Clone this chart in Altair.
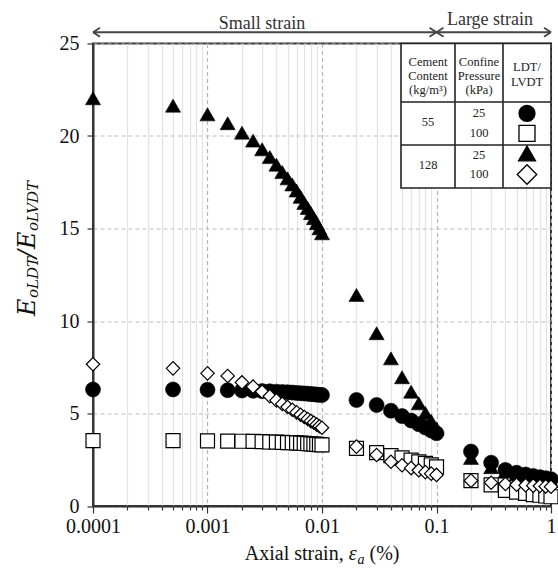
import altair as alt
import pandas as pd

# ---------------- data ----------------
strain = [
    0.0001, 0.0005, 0.001, 0.0015, 0.002, 0.0025, 0.003, 0.0035, 0.004, 0.0045,
    0.005, 0.0055, 0.006, 0.0065, 0.007, 0.0075, 0.008, 0.0085, 0.009, 0.0095, 0.01,
    0.02, 0.03, 0.04, 0.05, 0.06, 0.07, 0.08, 0.09, 0.1,
    0.2, 0.3, 0.4, 0.5, 0.6, 0.7, 0.8, 0.9, 1.0,
]
circle_55_25 = [6.30, 6.30, 6.28, 6.26, 6.24, 6.23, 6.21, 6.20, 6.18, 6.16, 6.15, 6.13, 6.11, 6.10,
                6.08, 6.07, 6.05, 6.04, 6.02, 6.01, 6.00,
                5.73, 5.46, 5.15, 4.86, 4.62, 4.42, 4.24, 4.08, 3.93,
                2.94, 2.34, 1.95, 1.80, 1.70, 1.62, 1.56, 1.50, 1.45]
square_55_100 = [3.53, 3.53, 3.52, 3.51, 3.50, 3.49, 3.48, 3.46, 3.45, 3.44, 3.43, 3.42, 3.41, 3.40,
                 3.38, 3.37, 3.36, 3.35, 3.33, 3.32, 3.30,
                 3.12, 2.88, 2.72, 2.60, 2.48, 2.38, 2.30, 2.22, 2.12,
                 1.37, 1.14, 0.85, 0.75, 0.68, 0.62, 0.58, 0.54, 0.50]
triangle_128_25 = [22.04, 21.64, 21.17, 20.69, 20.18, 19.75, 19.28, 18.86, 18.45, 18.05, 17.71,
                   17.38, 17.05, 16.71, 16.38, 16.11, 15.83, 15.56, 15.29, 15.01, 14.74,
                   11.41, 9.34, 7.98, 6.96, 6.18, 5.55, 5.03, 4.60, 4.20,
                   2.60, 2.10, 1.85, 1.70, 1.60, 1.52, 1.45, 1.40, 1.35]
diamond_128_100 = [7.66, 7.44, 7.17, 7.03, 6.68, 6.45, 6.18, 5.93, 5.71, 5.52, 5.35, 5.20, 5.06,
                   4.93, 4.81, 4.70, 4.59, 4.50, 4.40, 4.31, 4.23,
                   3.21, 2.76, 2.39, 2.20, 2.05, 1.93, 1.83, 1.75, 1.68,
                   1.37, 1.26, 1.19, 1.15, 1.12, 1.10, 1.08, 1.06, 1.04]

x_ticks = [m * 10.0 ** e for e in range(-4, 0) for m in range(1, 10)] + [1.0]
y_ticks = [0, 5, 10, 15, 20, 25]

small_strain_span = [0.0001, 0.1]
large_strain_span = [0.1, 1.0]

# ---------------- styling ----------------
SERIF = "Liberation Serif"
MATH = "DejaVu Serif"
W, H = 458, 462.5

decade = "abs(log(datum.value)/LN10 - round(log(datum.value)/LN10)) < 0.001"

xscale = alt.Scale(type="log", domain=[0.0001, 1], nice=False)
yscale = alt.Scale(domain=[0, 25], nice=False)

X = alt.X(
    "strain:Q", scale=xscale,
    axis=alt.Axis(
        values=x_ticks, title=None,
        labelExpr=f"({decade}) ? format(datum.value, '~g') : ''",
        labelFont=SERIF, labelFontSize=20, labelColor="#111", labelPadding=3,
        labelFlush=False, labelOverlap=False,
        tickSize={"condition": {"test": decade, "value": 7}, "value": 4},
        tickColor="#333", tickWidth=1.2,
        domainColor="#333", domainWidth=2,
        grid=True,
        gridDash={"condition": {"test": decade, "value": [4, 3]}, "value": []},
        gridColor={"condition": {"test": decade, "value": "#b5b5b5"}, "value": "#e2e2e2"},
        gridWidth=1.2,
    ),
)
Y = alt.Y(
    "ratio:Q", scale=yscale,
    axis=alt.Axis(
        values=y_ticks, title=None,
        labelFont=SERIF, labelFontSize=20, labelColor="#111", labelPadding=8,
        tickSize=6, tickColor="#333", tickWidth=1.2,
        domainColor="#333", domainWidth=2,
        grid=True, gridDash=[4, 3], gridColor="#bdbdbd", gridWidth=1.2,
    ),
)


def series(vals, shape, fill, size, sw):
    df = pd.DataFrame({"strain": strain, "ratio": vals})
    return alt.Chart(df).mark_point(
        shape=shape, filled=True, fill=fill, stroke="black", strokeWidth=sw,
        size=size, opacity=1, fillOpacity=1,
    ).encode(x=X, y=Y)


squares = series(square_55_100, "square", "white", 196, 1.2)
triangles = series(triangle_128_25, "triangle-up", "black", 225, 0.6)
circles = series(circle_55_25, "circle", "black", 225, 0.6)
diamonds = series(diamond_128_100, "diamond", "white", 180, 1.2)

one = pd.DataFrame({"k": [0]})

# ---------------- top strain annotations ----------------
ARROW_Y = -11.2
arrow_line = alt.Chart(pd.DataFrame({"s": [small_strain_span[0]], "e": [large_strain_span[1]]})).mark_rule(
    color="#444", strokeWidth=2, x2Offset=-1
).encode(x=alt.X("s:Q", scale=xscale), x2="e:Q", y=alt.value(ARROW_Y))


def heads(tips, dx, off):
    df = pd.DataFrame({"s": tips})
    out = []
    for dy in (-4.5, 4.5):
        out.append(alt.Chart(df).mark_rule(color="#444", strokeWidth=1.8, xOffset=off, x2Offset=off + dx).encode(
            x=alt.X("s:Q", scale=xscale), x2="s:Q", y=alt.value(ARROW_Y), y2=alt.value(ARROW_Y + dy)))
    return out


left_heads = heads([small_strain_span[0], large_strain_span[0]], 7, 0)
right_heads = heads([small_strain_span[1], large_strain_span[1]], -7, 0)

top_text = alt.Chart(pd.DataFrame({
    "t": ["Small strain", "Large strain"],
    "px": [169, 397], "py": [-15, -18.5],
})).mark_text(font=SERIF, fontSize=18, color="#333", align="center", baseline="alphabetic").encode(
    x=alt.X("px:Q", scale=None), y=alt.Y("py:Q", scale=None), text="t:N")

# ---------------- legend table ----------------
TL, TR, TT, TB = 308, 458, 0, 144.5
C1, C2 = 362, 410
R1, R2 = 58.5, 101.5

table_bg = alt.Chart(one).mark_rect(fill="white", stroke="#222", strokeWidth=1.6).encode(
    x=alt.value(TL), x2=alt.value(TR), y=alt.value(TT), y2=alt.value(TB))

table_lines = alt.Chart(pd.DataFrame({
    "x1": [TL, TL, C1, C2], "x2": [TR, TR, C1, C2],
    "y1": [R1, R2, TT, TT], "y2": [R1, R2, TB, TB],
})).mark_rule(color="#222", strokeWidth=1.6).encode(
    x=alt.X("x1:Q", scale=None), x2="x2:Q", y=alt.Y("y1:Q", scale=None), y2="y2:Q")

cc1, cc2, cc3 = (TL + C1) / 2, (C1 + C2) / 2, (C2 + TR) / 2
table_text = alt.Chart(pd.DataFrame({
    "t": ["Cement", "Content", "(kg/m³)", "Confine", "Pressure", "(kPa)", "LDT/", "LVDT",
          "55", "25", "100", "128", "25", "100"],
    "px": [cc1, cc1, cc1, cc2, cc2, cc2, cc3, cc3, cc1, cc2, cc2, cc1, cc2, cc2],
    "py": [18.2, 32.5, 46.5, 18.2, 32.5, 46.5, 23.2, 38.2, 78.2, 69.2, 89.8, 121.5, 111.5, 130.5],
})).mark_text(font=SERIF, fontSize=12.5, color="#222", align="center", baseline="middle").encode(
    x=alt.X("px:Q", scale=None), y=alt.Y("py:Q", scale=None), text="t:N")

legend_symbols = alt.Chart(pd.DataFrame({
    "shape": ["circle", "square", "triangle-up", "diamond"],
    "fill": ["black", "white", "black", "white"],
    "size": [256, 256, 289, 380],
    "px": [cc3] * 4,
    "py": [69.8, 89.8, 110.0, 131.0],
})).mark_point(filled=True, stroke="black", strokeWidth=1.3, opacity=1).encode(
    x=alt.X("px:Q", scale=None), y=alt.Y("py:Q", scale=None),
    shape=alt.Shape("shape:N", scale=None), fill=alt.Fill("fill:N", scale=None),
    size=alt.Size("size:Q", scale=None))

# ---------------- axis titles (composed text) ----------------
ytitle = alt.Chart(pd.DataFrame({
    "t": ["E", "oLDT", "/", "E", "oLVDT"],
    "fs": [24, 15, 24, 24, 15],
    "px": [-58, -55, -58, -58, -55],
    "py": [272.5, 254.5, 214.5, 205.5, 187.5],
})).mark_text(font=MATH, fontStyle="italic", angle=270, align="left", baseline="alphabetic",
              color="#111").encode(
    x=alt.X("px:Q", scale=None), y=alt.Y("py:Q", scale=None), text="t:N",
    size=alt.Size("fs:Q", scale=None))

xtitle_plain = alt.Chart(pd.DataFrame({
    "t": ["Axial strain,", "(%)"], "px": [151.8, 276.5], "py": [516.5, 516.5],
})).mark_text(font=SERIF, fontSize=20, align="left", baseline="alphabetic", color="#111").encode(
    x=alt.X("px:Q", scale=None), y=alt.Y("py:Q", scale=None), text="t:N")

xtitle_ital = alt.Chart(pd.DataFrame({
    "t": ["ε", "a"], "px": [255.7, 264.5], "py": [516.5, 520.5], "fs": [20, 14],
})).mark_text(font=SERIF, fontStyle="italic", align="left", baseline="alphabetic", color="#111").encode(
    x=alt.X("px:Q", scale=None), y=alt.Y("py:Q", scale=None), text="t:N",
    size=alt.Size("fs:Q", scale=None))

chart = alt.layer(
    squares, triangles, circles, diamonds,
    table_bg, table_lines, table_text, legend_symbols,
    arrow_line, *left_heads, *right_heads, top_text,
    ytitle, xtitle_plain, xtitle_ital,
).properties(
    width=W, height=H,
    autosize=alt.AutoSizeParams(type="none"),
    padding={"left": 93, "top": 43.5, "right": 7, "bottom": 66.5},
    background="white",
).configure_view(stroke="#333", strokeWidth=2)

chart.save("out.html", embed_options={"renderer": "svg", "actions": False})
